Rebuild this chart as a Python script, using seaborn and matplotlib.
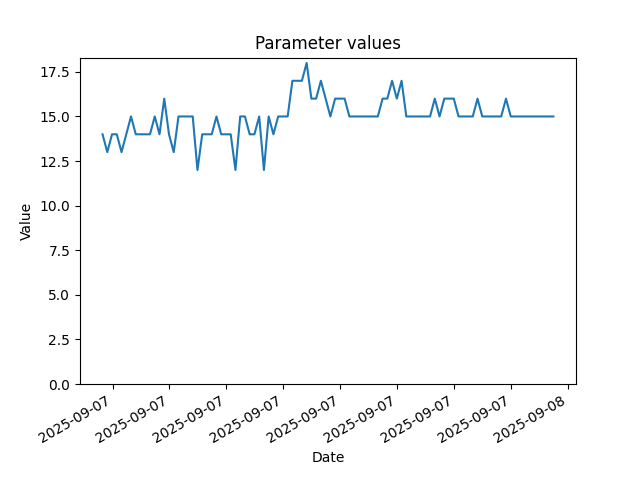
import matplotlib
matplotlib.use("Agg")
import matplotlib.pyplot as plt
import matplotlib.dates as mdates
import pandas as pd
import seaborn as sns

# readings every 10 minutes, starting 2025-09-07 07:39
start_time = "2025-09-07 07:39"
step = "10min"
values = [
    14, 13, 14, 14, 13, 14, 15, 14, 14, 14,
    14, 15, 14, 16, 14, 13, 15, 15, 15, 15,
    12, 14, 14, 14, 15, 14, 14, 14, 12, 15,
    15, 14, 14, 15, 12, 15, 14, 15, 15, 15,
    17, 17, 17, 18, 16, 16, 17, 16, 15, 16,
    16, 16, 15, 15, 15, 15, 15, 15, 15, 16,
    16, 17, 16, 17, 15, 15, 15, 15, 15, 15,
    16, 15, 16, 16, 16, 15, 15, 15, 15, 16,
    15, 15, 15, 15, 15, 16, 15, 15, 15, 15,
    15, 15, 15, 15, 15, 15,
]

dates = pd.date_range(start=start_time, periods=len(values), freq=step)
df = pd.DataFrame({"Date": dates, "Value": values})

fig, ax = plt.subplots(figsize=(6.4, 4.8), dpi=100)
sns.lineplot(data=df, x="Date", y="Value", ax=ax)
ax.set_ylim(bottom=0)
ax.xaxis.set_major_formatter(mdates.DateFormatter("%Y-%m-%d"))
ax.set_title("Parameter values")
ax.set_xlabel("Date")
ax.set_ylabel("Value")
fig.autofmt_xdate()
fig.savefig("out.png", dpi=100)
